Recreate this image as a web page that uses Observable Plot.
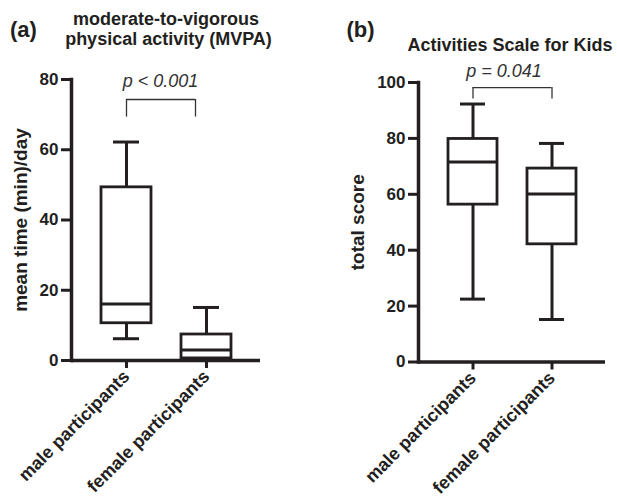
<!DOCTYPE html>
<html><head><meta charset="utf-8">
<script src="https://cdn.jsdelivr.net/npm/d3@7"></script>
<script src="https://cdn.jsdelivr.net/npm/@observablehq/plot@0.6"></script>
<style>
body{margin:0;background:#fff;}
#wrap{position:relative;width:617px;height:498px;font-family:"Liberation Sans",Arial,sans-serif;color:#231f20;}
.lbl{position:absolute;font-weight:bold;white-space:nowrap;line-height:1;}
#wrap svg{position:absolute;top:0;overflow:visible;}
</style></head><body><div id="wrap"></div>
<script>
// ---- data ----
const groups = ["male participants", "female participants"];

// Panel (a): moderate-to-vigorous physical activity, mean time (min)/day
const mvpaMin = [6.2, 0];
const mvpaQ1 = [10.6, 0.6];
const mvpaMedian = [16.1, 3.0];
const mvpaQ3 = [49.3, 7.4];
const mvpaMax = [62.2, 15.1];
const mvpaTicks = [0, 20, 40, 60, 80];

// Panel (b): Activities Scale for Kids, total score
const askMin = [22.5, 15.2];
const askQ1 = [56.3, 42.1];
const askMedian = [71.6, 60.1];
const askQ3 = [79.8, 69.2];
const askMax = [92.3, 78.2];
const askTicks = [0, 20, 40, 60, 80, 100];

// significance annotations
const pTexts = ["p < 0.001", "p = 0.041"];
const pTextY = [79.4, 104.2];
const bracketTop = [74.3, 98.2];
const bracketBottom = [69.3, 94.1];

const panelLetters = ["(a)", "(b)"];
const titleA = ["moderate-to-vigorous", "physical activity (MVPA)"];
const titleB = "Activities Scale for Kids";
const yLabels = ["mean time (min)/day", "total score"];

// ---- build ----
const ink = "#231f20";
function rows(mins, q1s, meds, q3s, maxs) {
  return groups.map((g, i) => ({group: g, min: mins[i], q1: q1s[i], med: meds[i], q3: q3s[i], max: maxs[i]}));
}

function panel(o) {
  const bw = o.bw;
  return Plot.plot({
    width: o.width, height: 498,
    marginLeft: o.marginLeft, marginRight: o.marginRight, marginTop: o.marginTop, marginBottom: o.marginBottom,
    style: {fontFamily: '"Liberation Sans", Arial, sans-serif', fontSize: "17px", fontWeight: "bold", color: ink, background: "transparent", overflow: "visible"},
    x: {type: "band", domain: groups, paddingInner: 0.38, paddingOuter: 0.364},
    y: {domain: o.yDomain},
    marks: [
      Plot.axisY({ticks: o.yTicks, tickSize: 10, tickPadding: 3, strokeWidth: 3, fontSize: 17, label: null}),
      Plot.axisX({tickSize: 8, tickRotate: -45, strokeWidth: 3, tickPadding: 5, fontSize: 18, label: null}),
      // y axis title
      Plot.text([o.yLabel], {frameAnchor: "left", textAnchor: "middle", lineAnchor: "middle", rotate: -90,
        dx: o.labelDx, text: d => d, fontSize: 19, fontWeight: "bold", fill: ink}),
      // whiskers
      Plot.ruleX(o.data, {x: "group", y1: "min", y2: "max", stroke: ink, strokeWidth: 3}),
      // boxes
      Plot.barY(o.data, {x: "group", y1: "q1", y2: "q3", fill: "white", stroke: ink, strokeWidth: 2.8}),
      // medians
      Plot.tickY(o.data, {x: "group", y: "med", stroke: ink, strokeWidth: 3}),
      // whisker caps
      Plot.tickY(o.data, {x: "group", y: "max", stroke: ink, strokeWidth: 3, inset: 12}),
      Plot.tickY(o.data, {x: "group", y: "min", stroke: ink, strokeWidth: 3, inset: 12}),
      // significance bracket
      Plot.ruleY([o.bracketTop], {y: d => d, x1: () => groups[0], x2: () => groups[1],
        insetLeft: bw / 2, insetRight: bw / 2 + o.rightShift, stroke: "#333", strokeWidth: 1.3}),
      Plot.ruleX([groups[0]], {x: d => d, y1: o.bracketBottom, y2: o.bracketTop, stroke: "#333", strokeWidth: 1.3}),
      Plot.ruleX([groups[1]], {x: d => d, y1: o.bracketBottom, y2: o.bracketTop, dx: -o.rightShift, stroke: "#333", strokeWidth: 1.3}),
      Plot.text([o.pText], {x: () => groups[0], y: o.pY, dx: o.pDx, text: d => d, fontStyle: "italic",
        fontWeight: "normal", fontSize: 18, fill: "#333"}),
      // axis lines
      Plot.ruleY([0], {stroke: ink, strokeWidth: 3.5}),
      Plot.frame({anchor: "left", stroke: ink, strokeWidth: 3.5})
    ]
  });
}

const wrap = document.getElementById("wrap");

const svgA = panel({
  data: rows(mvpaMin, mvpaQ1, mvpaMedian, mvpaQ3, mvpaMax),
  width: 300, marginLeft: 71, marginRight: 40, marginTop: 79, marginBottom: 138,
  yDomain: [0, 80], yTicks: mvpaTicks, yLabel: yLabels[0], labelDx: -51,
  bw: 50, rightShift: 11, bracketTop: bracketTop[0], bracketBottom: bracketBottom[0],
  pText: pTexts[0], pY: pTextY[0], pDx: 34
});
svgA.style.left = "0px";
wrap.appendChild(svgA);

const svgB = panel({
  data: rows(askMin, askQ1, askMedian, askQ3, askMax),
  width: 307, marginLeft: 108, marginRight: 12, marginTop: 82, marginBottom: 136.5,
  yDomain: [0, 100], yTicks: askTicks, yLabel: yLabels[1], labelDx: -61,
  bw: 49.4, rightShift: 0, bracketTop: bracketTop[1], bracketBottom: bracketBottom[1],
  pText: pTexts[1], pY: pTextY[1], pDx: 31
});
svgB.style.left = "310px";
wrap.appendChild(svgB);

function addText(txt, left, baseline, size, center) {
  const d = document.createElement("div");
  d.className = "lbl";
  d.textContent = txt;
  d.style.fontSize = size + "px";
  d.style.top = (baseline - 0.8465 * size) + "px";
  d.style.left = left + "px";
  if (center) d.style.transform = "translateX(-50%)";
  wrap.appendChild(d);
}
addText(panelLetters[0], 10, 37.3, 22, false);
addText(panelLetters[1], 346.5, 37.3, 22, false);
addText(titleA[0], 166, 25, 18, true);
addText(titleA[1], 168.5, 45, 18, true);
addText(titleB, 510, 51, 18, true);
</script>
</body></html>
